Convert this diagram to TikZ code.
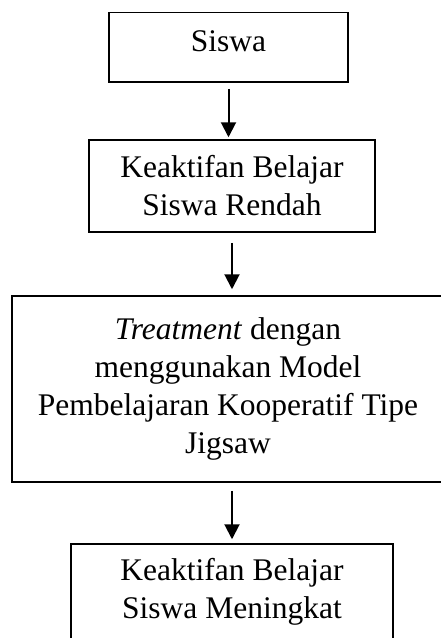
\documentclass[tikz,border=0pt]{standalone}
\usepackage{fontspec}
\setmainfont{Liberation Serif}
\usetikzlibrary{arrows.meta}
\begin{document}
\begin{tikzpicture}[x=1pt,y=-1pt,
  boxnode/.style={draw=black, line width=1.5pt, fill=white, align=center, inner sep=0pt,
    font=\fontsize{31.5}{38}\selectfont},
  flowarrow/.style={line width=2pt, -{Triangle[width=15pt,length=15pt]}}]
\clip (0,0) rectangle (441,638);
\fill[white] (0,0) rectangle (441,638);
\node[boxnode, minimum width=239pt, minimum height=69.5pt, text depth=12pt] (b1) at (228.5,47.25) {Siswa};
\node[boxnode, minimum width=286pt, minimum height=92pt] (b2) at (232,186) {Keaktifan Belajar\\Siswa Rendah};
\node[boxnode, minimum width=432pt, minimum height=186pt] (b3) at (228,389) {\textit{Treatment} dengan\\menggunakan Model\\Pembelajaran Kooperatif Tipe\\Jigsaw};
\node[boxnode, minimum width=322pt, minimum height=96pt] (b4) at (232,592) {Keaktifan Belajar\\Siswa Meningkat};
\draw[flowarrow, shorten <=6pt, shorten >=2pt] (b1.south) -- (b1.south |- b2.north);
\draw[flowarrow, shorten <=10pt, shorten >=6pt] (b2.south) -- (b2.south |- b3.north);
\draw[flowarrow, shorten <=8pt, shorten >=4pt] (b2.south |- b3.south) -- (b4.north);
\end{tikzpicture}
\end{document}
